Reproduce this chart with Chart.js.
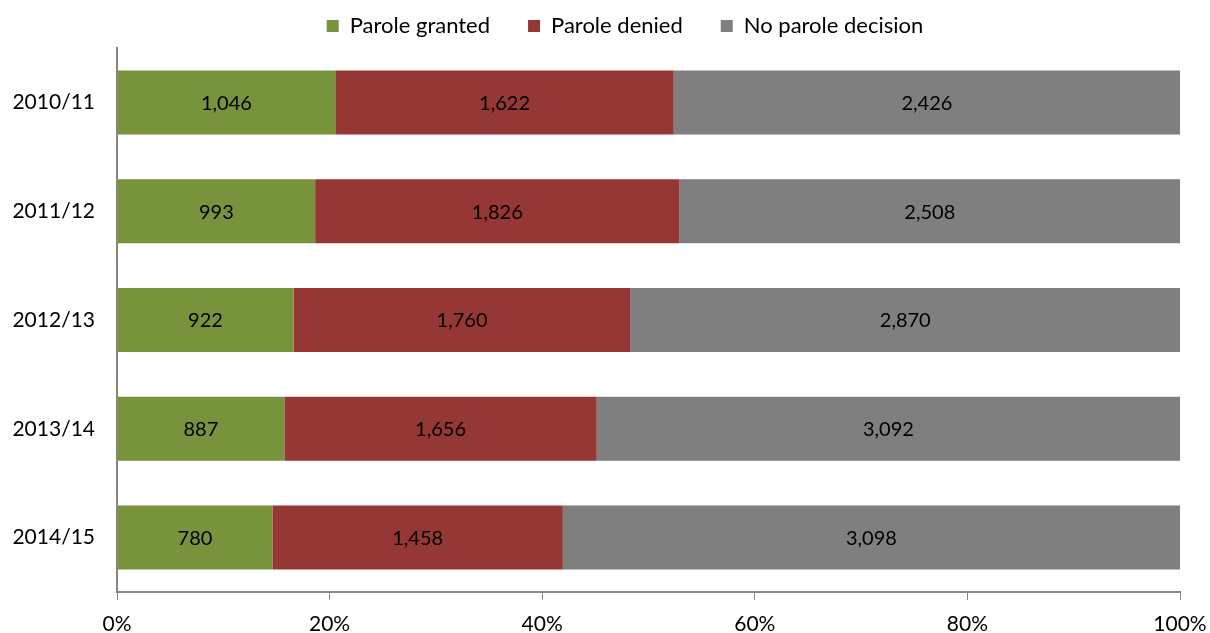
<!DOCTYPE html>
<html><head><meta charset="utf-8">
<script src="https://cdn.jsdelivr.net/npm/chart.js@4/dist/chart.umd.min.js"></script>
<style>html,body{margin:0;padding:0;background:#fff}#wrap{width:1210px;height:633px}</style>
</head><body><div id="wrap"><canvas id="c"></canvas></div>
<script>
const categories = ['2010/11','2011/12','2012/13','2013/14','2014/15'];
const granted = [1046, 993, 922, 887, 780];
const denied = [1622, 1826, 1760, 1656, 1458];
const noDecision = [2426, 2508, 2870, 3092, 3098];
const xTicks = ['0%','20%','40%','60%','80%','100%'];

const totals = categories.map((_, i) => granted[i] + denied[i] + noDecision[i]);
const pct = arr => arr.map((v, i) => v / totals[i] * 100);
const FONT = 'Lato, "Open Sans", sans-serif';

const labelPlugin = {
  id: 'segLabels',
  afterDatasetsDraw(chart) {
    const ctx = chart.ctx;
    ctx.save();
    ctx.font = '20px ' + FONT;
    ctx.fillStyle = '#000';
    ctx.textAlign = 'center';
    ctx.textBaseline = 'middle';
    chart.data.datasets.forEach((ds, di) => {
      chart.getDatasetMeta(di).data.forEach((el, i) => {
        const c = el.getCenterPoint();
        ctx.fillText(ds.raw[i].toLocaleString('en-US'), c.x, c.y + 1);
      });
    });
    ctx.restore();
  }
};

const legendTweak = {
  id: 'legendTweak',
  beforeInit(chart) {
    const lg = chart.legend;
    if (lg) {
      const orig = lg.fit;
      lg.fit = function () { orig.call(this); this.height = 42; };
    }
  },
  afterLayout(chart) {
    const lg = chart.legend;
    if (!lg) return;
    const targetCenter = 625;
    const dx = targetCenter - (lg.left + lg.right) / 2;
    lg.left += dx; lg.right += dx;
    lg.top = -23; lg.bottom = 60;
  }
};

new Chart(document.getElementById('c'), {
  type: 'bar',
  data: {
    labels: categories,
    datasets: [
      {label: 'Parole granted', data: pct(granted), raw: granted, backgroundColor: '#77933C'},
      {label: 'Parole denied', data: pct(denied), raw: denied, backgroundColor: '#953735'},
      {label: 'No parole decision', data: pct(noDecision), raw: noDecision, backgroundColor: '#7F7F7F'}
    ]
  },
  options: {
    indexAxis: 'y',
    responsive: true,
    maintainAspectRatio: false,
    animation: false,
    barPercentage: 0.588,
    categoryPercentage: 1,
    layout: {padding: {left: 8, right: 30, top: 6, bottom: 0}},
    plugins: {
      legend: {
        position: 'top',
        labels: {boxWidth: 12, boxHeight: 12, padding: 38, color: '#000', font: {family: FONT, size: 22}}
      },
      tooltip: {enabled: false}
    },
    scales: {
      x: {
        stacked: true, min: 0, max: 100,
        afterBuildTicks(s) { s.ticks = xTicks.map((t, i) => ({value: i * 20})); },
        ticks: {callback: (v, i) => xTicks[i], color: '#000', font: {family: FONT, size: 21}, padding: 12, maxRotation: 0},
        grid: {drawOnChartArea: false, drawTicks: true, tickLength: 8, color: '#868686'},
        border: {display: true, color: '#868686', width: 2},
        afterFit(s) { s.height = 41; s.paddingRight = 0; s.paddingLeft = 0; }
      },
      y: {
        stacked: true,
        ticks: {color: '#000', font: {family: FONT, size: 21}, padding: 22},
        grid: {drawOnChartArea: false, drawTicks: false},
        border: {display: true, color: '#868686', width: 2},
        afterFit(s) { s.width = 109; }
      }
    }
  },
  plugins: [labelPlugin, legendTweak]
});
</script></body></html>
